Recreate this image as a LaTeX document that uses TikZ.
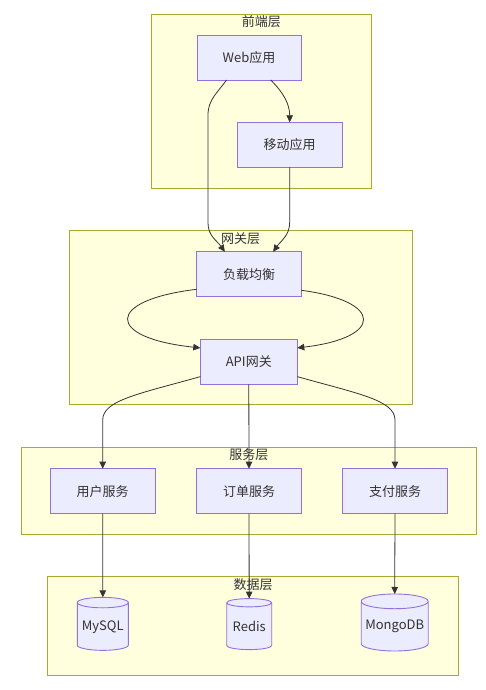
\documentclass[tikz,border=0pt]{standalone}
\usepackage{fontspec}
\usepackage{tikz}
\usetikzlibrary{arrows.meta, positioning, shapes.geometric}
\newfontfamily\cjkfont{Noto Sans CJK SC}
\definecolor{layerFill}{HTML}{FFFFDE}
\definecolor{layerLine}{HTML}{AAAA33}
\definecolor{boxFill}{HTML}{ECECFF}
\definecolor{boxLine}{HTML}{9370DB}
\definecolor{edgeLine}{HTML}{333333}

\begin{document}
\begin{tikzpicture}[
  x=1pt, y=1pt,
  font={\cjkfont\fontsize{13}{15}\selectfont}, text=edgeLine,
  layer/.style={draw=layerLine, fill=layerFill, line width=0.9pt, inner sep=0pt, outer sep=0pt},
  ttl/.style={anchor=north, inner sep=1.5pt},
  box/.style={draw=boxLine, fill=boxFill, line width=0.9pt, minimum height=45pt, minimum width=104.6pt, inner sep=0pt, outer sep=0pt},
  db/.style={cylinder, shape border rotate=90, aspect=0.25, draw=boxLine, fill=boxFill, line width=0.9pt, inner sep=0pt, outer sep=0pt},
  arr/.style={-{Triangle[length=7pt, width=6.5pt]}, line width=0.8pt, draw=edgeLine}
]
\useasboundingbox (0,0) rectangle (486,690);

% layers (y counted up from the bottom edge)
\node[layer, minimum width=220.7pt, minimum height=174pt]   (frontL)   at (261.3,589)   {};
\node[layer, minimum width=343.3pt, minimum height=174.3pt] (gateL)    at (240.7,372.2) {};
\node[layer, minimum width=454.3pt, minimum height=87.7pt]  (serviceL) at (248.9,198.9) {};
\node[layer, minimum width=410.6pt, minimum height=99.3pt]  (dataL)    at (253,63.7)    {};

\node[ttl] (frontT)   at (frontL.north)   {前端层};
\node[ttl] (gateT)    at (gateL.north)    {网关层};
\node[ttl] (serviceT) at (serviceL.north) {服务层};
\node[ttl] (dataT)    at (dataL.north)    {数据层};

% front end
\node[box, minimum width=104pt] (web)    at (249,632.5)   {Web应用};
\node[box]                      (mobile) at (289.7,545.2) {移动应用};

% gateway
\node[box]                     (lb)  at (249,415.7)   {负载均衡};
\node[box, minimum width=97pt] (api) at (248.8,328.2) {API网关};

% services
\node[box] (user)  at (102.7,198.8) {用户服务};
\node[box] (order) at (249,198.8)   {订单服务};
\node[box] (pay)   at (395,198.8)   {支付服务};

% databases
\node[db, minimum width=51pt, minimum height=53pt] (mysql) at (102.8,63.3) {MySQL};
\node[db, minimum width=45pt, minimum height=51pt] (redis) at (249.2,63.6) {Redis};
\node[db, minimum width=67pt, minimum height=57pt] (mongo) at (394.7,63.6) {MongoDB};

% edges
\draw[arr] (web.225) to[out=235,in=90] ++(-18.5,-35) -- ++(0,-108) to[out=-90,in=125] (lb.137);
\draw[arr] (web.314) to[out=-45,in=90] (mobile.north);
\draw[arr] (mobile.south) -- ++(0,-55) to[out=-90,in=55] (lb.43);

\draw[arr] (lb.196) .. controls +(-92,-11) and +(-95,10) .. (api.164);
\draw[arr] (lb.343) .. controls +(83,-11) and +(86,10) .. (api.16);

\draw[arr] (api.197) .. controls +(-60,-17) and +(0,20) .. (user.north |- 0,270) -- (user.north);
\draw[arr] (api.south) -- (order.north);
\draw[arr] (api.343) .. controls +(60,-17) and +(0,20) .. (pay.north |- 0,270) -- (pay.north);

\draw[arr] (user.south)  -- (mysql.north);
\draw[arr] (order.south) -- (redis.north);
\draw[arr] (pay.south)   -- (mongo.north);

\end{tikzpicture}
\end{document}
